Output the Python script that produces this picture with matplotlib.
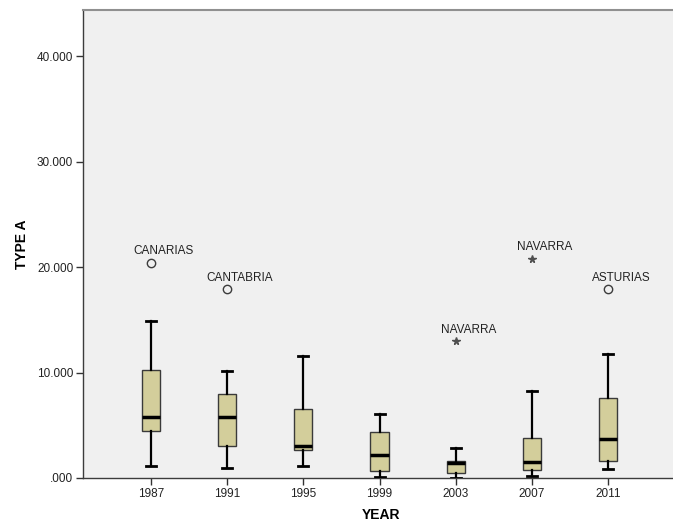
import matplotlib
matplotlib.use("Agg")
import matplotlib.pyplot as plt
from matplotlib.ticker import FuncFormatter

# datos (TYPE A por año)
years = ["1987", "1991", "1995", "1999", "2003", "2007", "2011"]
whisker_low = [1.17, 0.92, 1.17, 0.10, 0.02, 0.19, 0.85]
q1 = [4.42, 3.00, 2.65, 0.66, 0.47, 0.76, 1.58]
median = [5.81, 5.78, 3.06, 2.21, 1.45, 1.49, 3.70]
q3 = [10.24, 8.00, 6.57, 4.36, 1.64, 3.76, 7.61]
whisker_high = [14.9, 10.14, 11.53, 6.10, 2.84, 8.28, 11.75]

# casos atipicos: (indice de año, valor, etiqueta)
outlier_idx = [0, 1, 6]
outlier_val = [20.4, 17.9, 17.9]
outlier_lab = ["CANARIAS", "CANTABRIA", "ASTURIAS"]
extreme_idx = [4, 5]
extreme_val = [12.96, 20.8]
extreme_lab = ["NAVARRA", "NAVARRA"]

plt.rcParams.update({
    'font.family': ['Liberation Sans', 'DejaVu Sans'],
    'font.size': 8.5,
})

fig = plt.figure(figsize=(6.73, 5.27), dpi=100)
ax = fig.add_axes([83 / 673, 49 / 527, 597 / 673, 468 / 527])
ax.set_facecolor('#f0f0f0')

stats = []
for i in range(len(years)):
    stats.append({
        'whislo': whisker_low[i], 'q1': q1[i], 'med': median[i],
        'q3': q3[i], 'whishi': whisker_high[i], 'fliers': [],
    })

ax.bxp(stats, positions=range(len(years)), widths=0.24, showfliers=False,
       patch_artist=True,
       boxprops=dict(facecolor='#d3ce9b', edgecolor='#3a3a3a', linewidth=1.0),
       medianprops=dict(color='black', linewidth=2.5),
       whiskerprops=dict(color='black', linewidth=1.6),
       capprops=dict(color='black', linewidth=2.0),
       capwidths=0.13, zorder=3)

ax.plot(outlier_idx, outlier_val, 'o', ms=6, mfc='none', mec='#3c3c3c',
        mew=1.0, zorder=4)
ax.plot(extreme_idx, extreme_val, '*', ms=5.5, color='#505050', zorder=4)

for x, y, lab in zip(outlier_idx + extreme_idx, outlier_val + extreme_val,
                     outlier_lab + extreme_lab):
    ax.annotate(lab, (x, y), xytext=(9, 8.5), textcoords='offset points',
                ha='center', va='center', fontsize=8.5, color='#222222')

ax.set_xlim(-0.89, 6.94)
ax.set_ylim(0, 44.4)
ax.set_xticks(range(len(years)))
ax.set_xticklabels(years)
ax.set_yticks([0, 10, 20, 30, 40])
ax.yaxis.set_major_formatter(FuncFormatter(
    lambda v, p: ".000" if v == 0 else f"{v:.3f}"))

ax.tick_params(axis='both', direction='out', length=5, width=1.0,
               color='#333333', labelcolor='#222222', labelsize=8.5, pad=2)

for side in ['left', 'bottom']:
    ax.spines[side].set_color('#3c3c3c')
    ax.spines[side].set_linewidth(1.0)
ax.spines['top'].set_color('#909090')
ax.spines['top'].set_linewidth(1.5)
ax.spines['right'].set_visible(False)

ax.set_xlabel('YEAR', fontsize=10, fontweight='bold', labelpad=6)
ax.set_ylabel('TYPE A', fontsize=10, fontweight='bold', labelpad=6)

plt.savefig('out.png', dpi=100, facecolor='white')
plt.close()
